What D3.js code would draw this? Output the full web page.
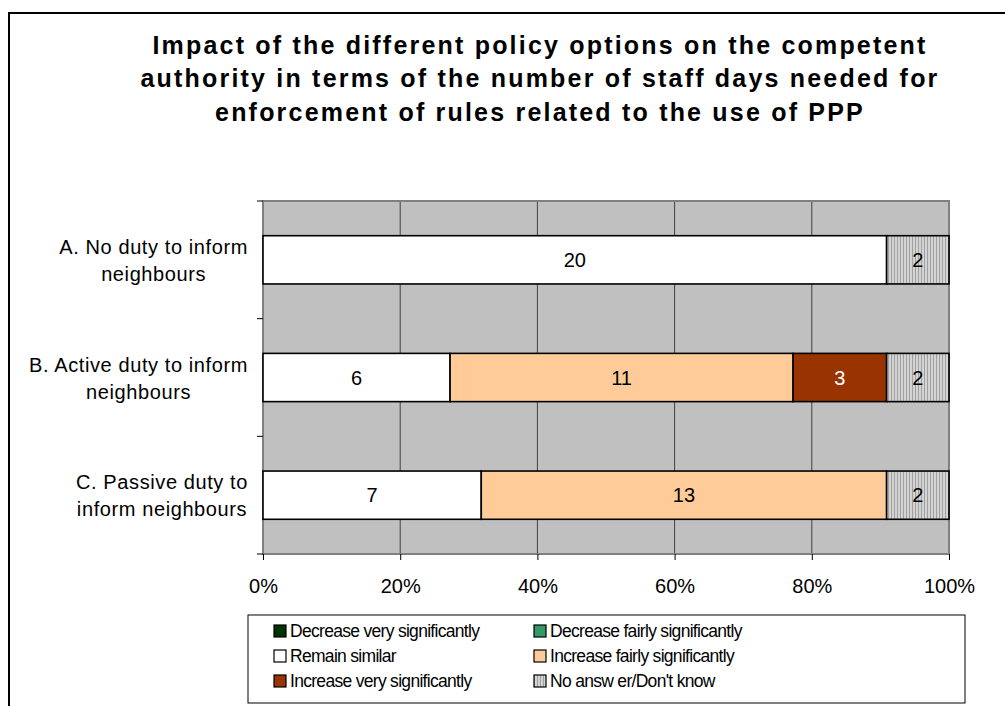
<!DOCTYPE html>
<html><head><meta charset="utf-8">
<script src="https://cdn.jsdelivr.net/npm/d3@7"></script>
<style>
html,body{margin:0;padding:0;background:#fff;}
svg{display:block;font-family:"Liberation Sans",Arial,sans-serif;}
</style></head>
<body>
<svg id="chart" width="1005" height="706"></svg>
<script>
const titleLines = [
  "Impact of the different policy options on the competent",
  "authority in terms of the number of staff days needed for",
  "enforcement of rules related to the use of PPP"
];
const categories = ["A", "B", "C"];
const categoryLabels = [
  ["A. No duty to inform", "neighbours"],
  ["B. Active duty to inform", "neighbours"],
  ["C. Passive duty to", "inform neighbours"]
];
const seriesNames = ["Decrease very significantly", "Decrease fairly significantly", "Remain similar",
  "Increase fairly significantly", "Increase very significantly", "No answer/Don't know"];
const legendLabels = ["Decrease very significantly", "Decrease fairly significantly", "Remain similar",
  "Increase fairly significantly", "Increase very significantly", "No answ er/Don't know"];
const decreaseVery   = [0, 0, 0];
const decreaseFairly = [0, 0, 0];
const remainSimilar  = [20, 6, 7];
const increaseFairly = [0, 11, 13];
const increaseVery   = [0, 3, 0];
const noAnswer       = [2, 2, 2];
const xTicks = [0, 0.2, 0.4, 0.6, 0.8, 1];

const seriesValues = [decreaseVery, decreaseFairly, remainSimilar, increaseFairly, increaseVery, noAnswer];
const colors = ["#003300", "#339966", "#ffffff", "#ffcc99", "#993300", "url(#stripes)"];
const textColors = ["#fff", "#fff", "#000", "#000", "#fff", "#000"];

const svg = d3.select("#chart");
const defs = svg.append("defs");
const pat = defs.append("pattern").attr("id", "stripes").attr("patternUnits", "userSpaceOnUse")
  .attr("width", 3).attr("height", 4);
pat.append("rect").attr("width", 3).attr("height", 4).attr("fill", "#d4d4d4");
pat.append("rect").attr("x", 0).attr("width", 1).attr("height", 4).attr("fill", "#a0a0a0");

// outer frame
svg.append("rect").attr("x", 9).attr("y", 13).attr("width", 1200).attr("height", 900)
  .attr("fill", "none").attr("stroke", "#000").attr("stroke-width", 2);

// title
svg.append("g").selectAll("text").data(titleLines).join("text")
  .attr("x", 540).attr("y", (d, i) => 54 + i * 33.3)
  .attr("text-anchor", "middle").attr("font-size", 25).attr("font-weight", "bold")
  .attr("letter-spacing", "2.2px").attr("fill", "#000").text(d => d);

const rows = categories.map((c, i) => {
  const o = {cat: c};
  seriesNames.forEach((s, j) => o[s] = seriesValues[j][i]);
  return o;
});
const stacked = d3.stack().keys(seriesNames).offset(d3.stackOffsetExpand)(rows);

const x = d3.scaleLinear().domain([0, 1]).range([263, 949]);
const y = d3.scaleBand().domain(categories).range([201, 554]).padding(0);
const barH = y.bandwidth() * 0.41;

// plot background
svg.append("rect").attr("x", x(0)).attr("y", 201).attr("width", x(1) - x(0)).attr("height", 554 - 201)
  .attr("fill", "#c0c0c0");

// gridlines
svg.append("g").selectAll("line").data(xTicks.slice(1, -1)).join("line")
  .attr("x1", d => x(d)).attr("x2", d => x(d)).attr("y1", 201).attr("y2", 554)
  .attr("stroke", "#404040").attr("stroke-width", 1);

// plot border
svg.append("rect").attr("x", x(0)).attr("y", 201).attr("width", x(1) - x(0)).attr("height", 554 - 201)
  .attr("fill", "none").attr("stroke", "#808080").attr("stroke-width", 2);

// bars
const segs = [];
stacked.forEach((layer, j) => layer.forEach((d, i) => {
  const v = seriesValues[j][i];
  if (v > 0) segs.push({j, i, x0: d[0], x1: d[1], v, cat: categories[i]});
}));
const bars = svg.append("g");
bars.selectAll("rect").data(segs).join("rect")
  .attr("x", d => x(d.x0)).attr("width", d => x(d.x1) - x(d.x0))
  .attr("y", d => y(d.cat) + (y.bandwidth() - barH) / 2).attr("height", barH)
  .attr("fill", d => colors[d.j]).attr("stroke", "#000").attr("stroke-width", 1.6);
bars.selectAll("text").data(segs).join("text")
  .attr("x", d => (x(d.x0) + x(d.x1)) / 2).attr("y", d => y(d.cat) + y.bandwidth() / 2 + 7)
  .attr("text-anchor", "middle").attr("font-size", 20).attr("fill", d => textColors[d.j])
  .text(d => d.v);

// y axis ticks
svg.append("g").selectAll("line").data([...categories.map(c => y(c)), 554]).join("line")
  .attr("x1", 257).attr("x2", 263).attr("y1", d => d).attr("y2", d => d)
  .attr("stroke", "#000").attr("stroke-width", 1);
// x axis
const xAxis = svg.append("g").attr("transform", "translate(0,554)")
  .call(d3.axisBottom(x).tickValues(xTicks).tickFormat(d3.format(".0%")).tickSize(6).tickPadding(18));
xAxis.select(".domain").remove();
xAxis.selectAll("line").attr("stroke", "#000");
xAxis.selectAll("text").attr("font-size", 20).attr("font-family", "Liberation Sans, Arial, sans-serif")
  .attr("fill", "#000").attr("dy", null).attr("y", 39);

// category labels
const catG = svg.append("g");
categories.forEach((c, i) => {
  const g = catG.append("g");
  const cy = y(c) + y.bandwidth() / 2;
  const texts = g.selectAll("text").data(categoryLabels[i]).join("text")
    .attr("y", (d, k) => cy - 6 + k * 27).attr("text-anchor", "middle")
    .attr("font-size", 20).attr("letter-spacing", "0.6px").attr("fill", "#000").text(d => d);
  let w = 0;
  texts.each(function () { w = Math.max(w, this.getComputedTextLength()); });
  texts.attr("x", 248 - w / 2);
});

// legend
const lg = svg.append("g");
lg.append("rect").attr("x", 248).attr("y", 615).attr("width", 717).attr("height", 88)
  .attr("fill", "#fff").attr("stroke", "#000").attr("stroke-width", 1);
const items = lg.selectAll("g.item").data(legendLabels).join("g").attr("class", "item")
  .attr("transform", (d, i) => `translate(${i % 2 === 0 ? 274 : 534},${637 + Math.floor(i / 2) * 25})`);
items.append("rect").attr("x", 0).attr("y", -12).attr("width", 12).attr("height", 12)
  .attr("fill", (d, i) => colors[i]).attr("stroke", "#000").attr("stroke-width", 1.2);
items.append("text").attr("x", 16).attr("y", 0).attr("font-size", 17.5).attr("letter-spacing", "-0.7px")
  .attr("fill", "#000").text(d => d);
</script>
</body></html>
